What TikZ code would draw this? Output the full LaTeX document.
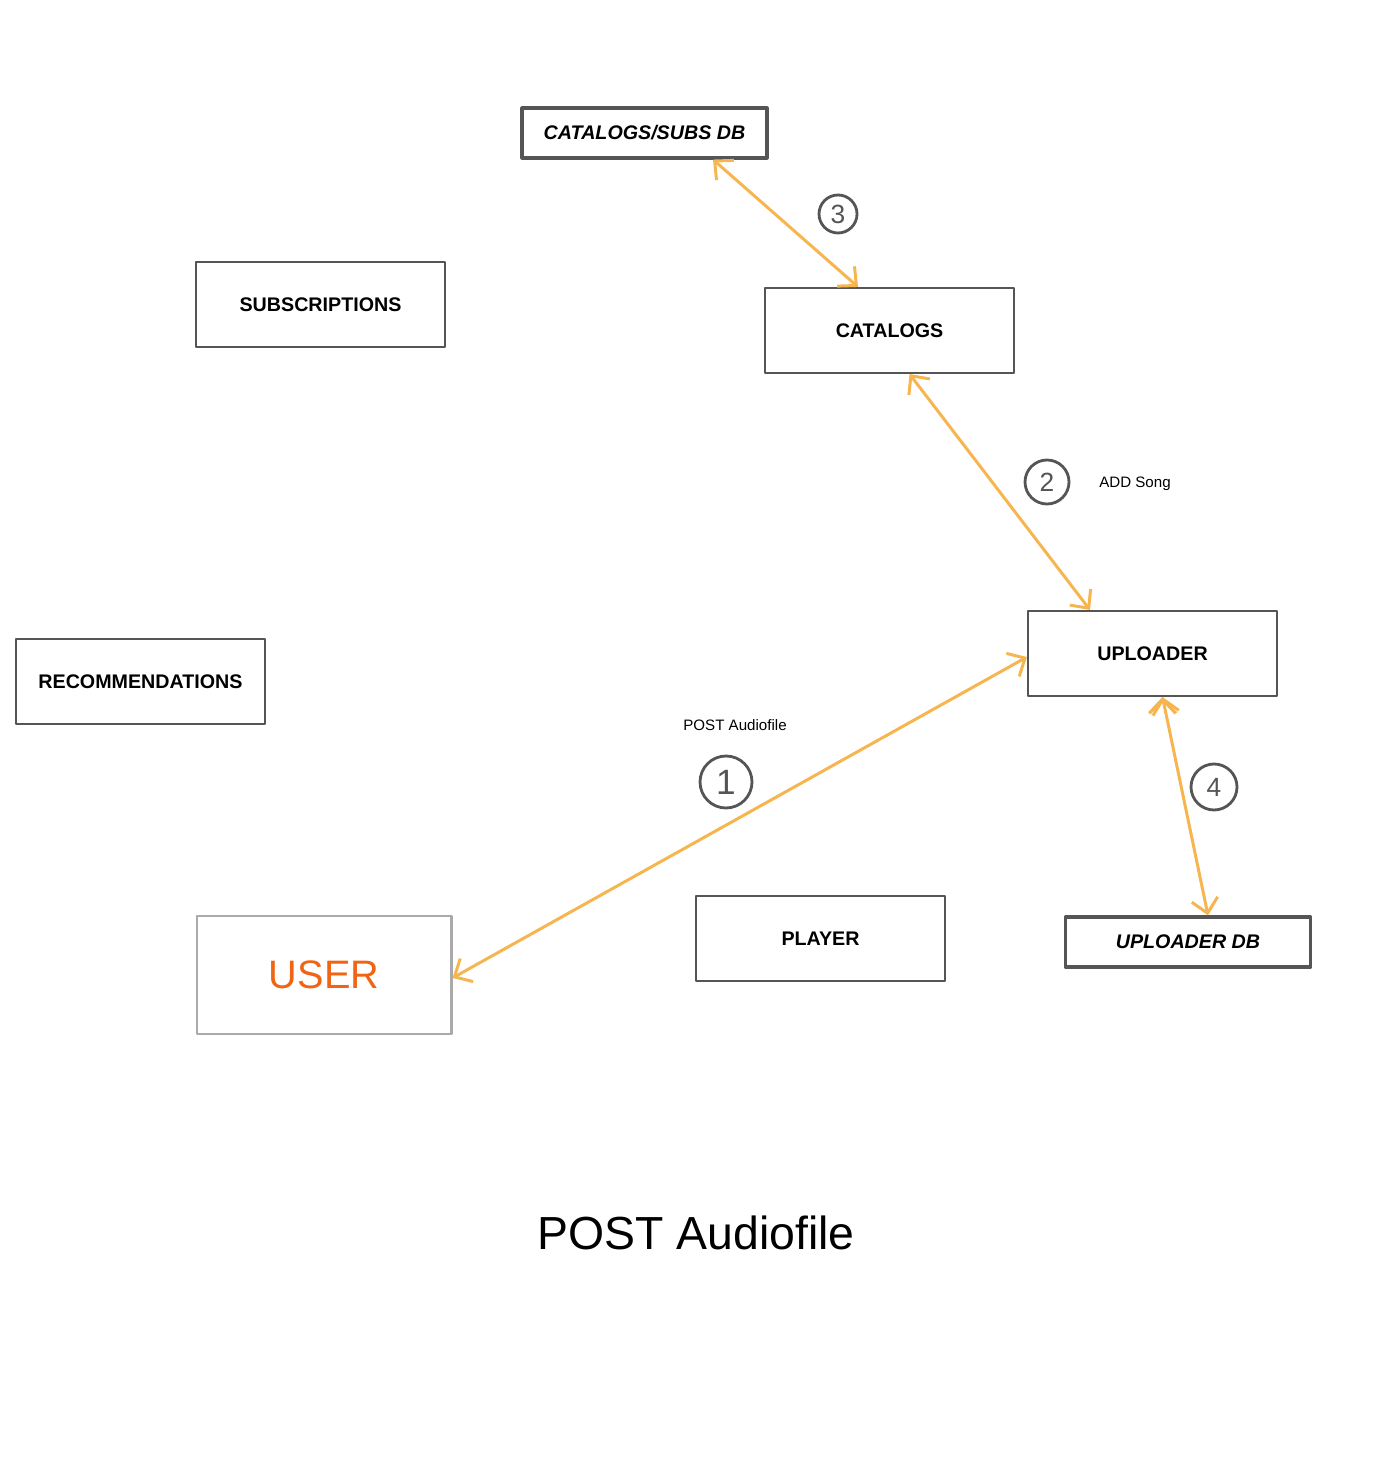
\documentclass[tikz,border=0pt]{standalone}
\usepackage{fontspec}
\setmainfont{Liberation Sans}
\usetikzlibrary{arrows.meta}
\definecolor{boxgray}{HTML}{555555}
\definecolor{usergray}{HTML}{AAAAAA}
\definecolor{flow}{HTML}{F7B550}
\definecolor{userorange}{HTML}{F06414}

\begin{document}
\begin{tikzpicture}[<->,>={Straight Barb[length=4pt,width=7.5pt]},line join=round]

    \tikzstyle{service}=[draw=boxgray,line width=0.6pt,fill=white,text=black,inner sep=0pt,
      minimum width=2.49cm,minimum height=0.85cm,font=\fontsize{5.6}{7}\selectfont\bfseries]
    \tikzstyle{database}=[service,line width=0.9pt,minimum width=2.45cm,minimum height=0.5cm,
      font=\fontsize{5.6}{7}\selectfont\bfseries\itshape]
    \tikzstyle{stepnum}=[draw=boxgray,text=boxgray,circle,line width=0.8pt,inner sep=0pt,
      font=\fontsize{7.5}{8}\selectfont]
    \tikzstyle{flowline}=[draw=flow,line width=0.85pt]

    \useasboundingbox (0,0) rectangle (13.92,-14.82);

    \node[database] (subsdb)     at (6.445,-1.33)  {CATALOGS/SUBS DB};
    \node[service]  (subs)       at (3.205,-3.045) {SUBSCRIPTIONS};
    \node[service]  (catalogs)   at (8.895,-3.305) {CATALOGS};
    \node[service]  (recs)       at (1.405,-6.815) {RECOMMENDATIONS};
    \node[service]  (uploader)   at (11.525,-6.535) {UPLOADER};
    \node[service]  (player)     at (8.205,-9.385) {PLAYER};
    \node[database] (uploaderdb) at (11.88,-9.42)  {UPLOADER DB};
    \node[service,draw=usergray,line width=0.85pt,minimum width=2.54cm,minimum height=1.18cm,
      text=userorange,font=\fontsize{11.3}{13}\selectfont] (user) at (3.24,-9.75) {USER};

    \node[stepnum,minimum size=0.52cm,font=\fontsize{10}{10}\selectfont] (s1) at (7.26,-7.82) {1};
    \node[stepnum,minimum size=0.44cm] (s2) at (10.47,-4.82) {2};
    \node[stepnum,minimum size=0.38cm] (s3) at (8.38,-2.14) {3};
    \node[stepnum,minimum size=0.46cm] (s4) at (12.14,-7.87) {4};

    \node[font=\fontsize{4.3}{5}\selectfont] (addsong)   at (11.35,-4.84) {ADD Song};
    \node[font=\fontsize{4.3}{5}\selectfont] (postlabel) at (7.35,-7.25)  {POST Audiofile};
    \node[font=\fontsize{13.2}{15}\selectfont] (title)   at (6.96,-12.33) {POST Audiofile};

    \path[flowline] ([yshift=-0.03cm]user.east) edge ([yshift=-0.035cm]uploader.west)
          ([xshift=0.2cm]catalogs.south)        edge ([xshift=-0.625cm]uploader.north)
          ([xshift=0.685cm]subsdb.south)        edge ([xshift=-0.315cm]catalogs.north)
          ([xshift=0.1cm]uploader.south)        edge ([xshift=0.2cm]uploaderdb.north)
    ;
\end{tikzpicture}
\end{document}
